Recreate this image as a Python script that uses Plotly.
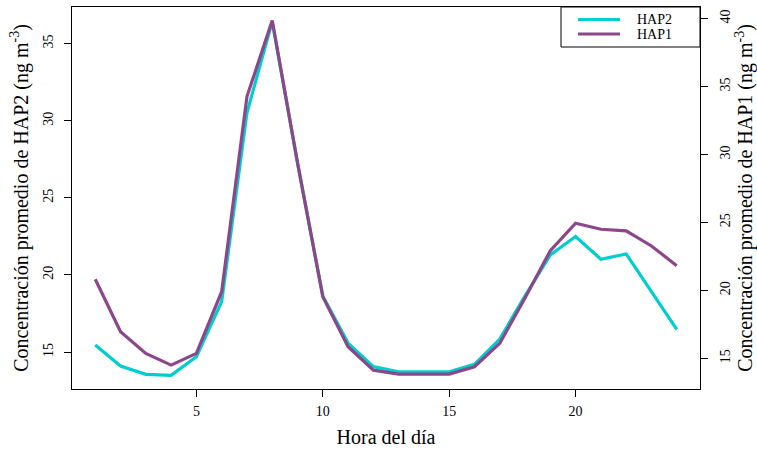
import plotly.graph_objects as go

hours = list(range(1, 25))
hap2 = [15.45, 14.09, 13.55, 13.49, 14.69, 18.27, 30.52, 36.43, 27.27, 18.64,
        15.58, 14.05, 13.72, 13.70, 13.72, 14.20, 15.84, 18.64, 21.30, 22.49,
        21.02, 21.36, 18.92, 16.47]
hap1 = [20.82, 16.96, 15.36, 14.50, 15.36, 19.90, 34.27, 39.87, 29.39, 19.54,
        15.85, 14.13, 13.84, 13.82, 13.84, 14.38, 16.10, 19.44, 22.93, 24.94,
        24.50, 24.38, 23.27, 21.82]
x_ticks = [5, 10, 15, 20]
left_ticks = [15, 20, 25, 30, 35]
right_ticks = [15, 20, 25, 30, 35, 40]
series_names = ["HAP2", "HAP1"]

CYAN = "#00CDCD"
PURPLE = "#8B4789"
FONT = "Liberation Serif"

W, H = 757, 450
L, R, T, B = 72, 57, 7, 61
pw, ph = W - L - R, H - T - B

def px_x(p):
    return (p - L) / pw

def px_y(p):
    return (H - B - p) / ph

fig = go.Figure()
fig.add_trace(go.Scatter(x=hours, y=hap2, mode="lines", name=series_names[0],
                         line=dict(color=CYAN, width=3.2), yaxis="y"))
fig.add_trace(go.Scatter(x=hours, y=hap1, mode="lines", name=series_names[1],
                         line=dict(color=PURPLE, width=3.2), yaxis="y2"))

axis_common = dict(showgrid=False, zeroline=False, showline=True, linecolor="black",
                   linewidth=1, ticks="outside", ticklen=7, tickcolor="black",
                   tickfont=dict(family=FONT, size=14, color="black"))

fig.update_layout(
    width=W, height=H,
    margin=dict(l=L, r=R, t=T, b=B, autoexpand=False),
    paper_bgcolor="white", plot_bgcolor="white",
    showlegend=False,
    font=dict(family=FONT, color="black"),
    xaxis=dict(range=[0.08, 24.92], tickvals=x_ticks, mirror=True,
               ticklabelstandoff=2,
               title=dict(text="Hora del día", font=dict(family=FONT, size=20), standoff=12),
               **axis_common),
    yaxis=dict(range=[12.60, 37.38], tickvals=left_ticks, tickangle=-90,
               ticklabelstandoff=5,
               title=dict(text="Concentración promedio de HAP2 (ng m<sup>-3</sup>)",
                          font=dict(family=FONT, size=20), standoff=7),
               **axis_common),
    yaxis2=dict(range=[12.74, 40.86], tickvals=right_ticks, tickangle=-90,
                overlaying="y", side="right", ticklabelstandoff=5,
                title=dict(text="Concentración promedio de HAP1 (ng m<sup>-3</sup>)",
                           font=dict(family=FONT, size=20), standoff=8),
                **axis_common),
)

# legend box drawn like the original
fig.add_shape(type="rect", xref="paper", yref="paper",
              x0=px_x(561), x1=px_x(700), y0=px_y(47), y1=px_y(7),
              line=dict(color="black", width=1), fillcolor="white", layer="above")
for name, col, yy in [(series_names[0], CYAN, 19.5), (series_names[1], PURPLE, 34.0)]:
    fig.add_shape(type="line", xref="paper", yref="paper",
                  x0=px_x(578), x1=px_x(620), y0=px_y(yy), y1=px_y(yy),
                  line=dict(color=col, width=3.2), layer="above")
    fig.add_annotation(text=name, xref="paper", yref="paper", x=px_x(635), y=px_y(yy),
                       xanchor="left", yanchor="middle", showarrow=False,
                       font=dict(family=FONT, size=14, color="black"))

fig.write_html("out.html")
